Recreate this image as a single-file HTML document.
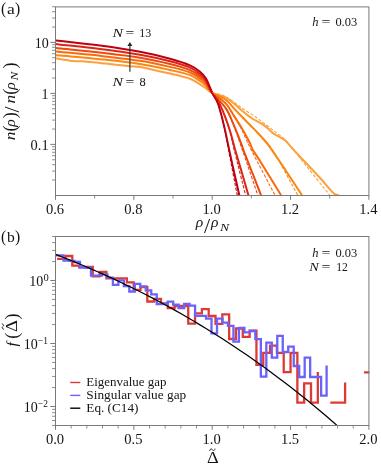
<!DOCTYPE html>
<html><head><meta charset="utf-8"><title>figure</title>
<style>html,body{margin:0;padding:0;background:#fff;}svg{display:block;}text{font-family:"Liberation Serif",serif;}</style></head>
<body>
<svg width="381" height="466" viewBox="0 0 381 466">
<rect width="381" height="466" fill="#fff"/>
<defs><clipPath id="ca"><rect x="55.50" y="6.90" width="313.40" height="188.60"/></clipPath><clipPath id="cb"><rect x="55.50" y="236.50" width="314.60" height="189.00"/></clipPath></defs>
<g clip-path="url(#ca)" fill="none" stroke-linejoin="round">
<path d="M55.60 58.30 C56.50 58.45 59.00 58.88 61.00 59.20 C63.00 59.52 65.80 59.90 67.60 60.20 C69.40 60.50 69.35 60.82 71.80 61.00 C74.25 61.18 79.27 61.13 82.30 61.30 C85.33 61.47 87.05 61.73 90.00 62.00 C92.95 62.27 95.33 62.40 100.00 62.90 C104.67 63.40 112.17 64.38 118.00 65.00 C123.83 65.62 131.33 66.28 135.00 66.60 C138.67 66.92 134.17 65.75 140.00 66.90 C145.83 68.05 161.67 71.53 170.00 73.50 C178.33 75.47 185.00 76.88 190.00 78.70 C195.00 80.52 197.33 82.78 200.00 84.40 C202.67 86.02 203.97 86.98 206.00 88.40 C208.03 89.82 208.92 91.37 212.20 92.90 C215.48 94.43 222.13 95.88 225.70 97.60 C229.27 99.32 230.97 101.08 233.60 103.20 C236.23 105.32 238.87 108.07 241.50 110.30 C244.13 112.53 247.33 115.07 249.40 116.60 C251.47 118.13 251.62 118.17 253.90 119.50 C256.18 120.83 260.75 123.08 263.10 124.60 C265.45 126.12 266.25 127.10 268.00 128.60 C269.75 130.10 271.60 132.17 273.60 133.60 C275.60 135.03 278.03 136.03 280.00 137.20 C281.97 138.37 283.40 138.80 285.40 140.60 C287.40 142.40 289.57 145.30 292.00 148.00 C294.43 150.70 297.07 153.68 300.00 156.80 C302.93 159.92 306.10 163.00 309.60 166.70 C313.10 170.40 317.10 174.67 321.00 179.00 C324.90 183.33 330.00 189.98 333.00 192.70 C336.00 195.42 338.00 194.87 339.00 195.30" stroke="#fda03e" stroke-width="2.0"/>
<path d="M55.60 55.00 C56.50 55.10 53.60 54.90 61.00 55.60 C68.40 56.30 86.83 57.82 100.00 59.20 C113.17 60.58 128.33 62.10 140.00 63.90 C151.67 65.70 161.67 68.13 170.00 70.00 C178.33 71.87 185.00 73.27 190.00 75.10 C195.00 76.93 197.33 79.22 200.00 81.00 C202.67 82.78 203.97 83.82 206.00 85.80 C208.03 87.78 208.92 90.57 212.20 92.90 C215.48 95.23 222.13 97.27 225.70 99.80 C229.27 102.33 230.97 105.37 233.60 108.10 C236.23 110.83 238.77 113.38 241.50 116.20 C244.23 119.02 247.25 122.17 250.00 125.00 C252.75 127.83 255.17 130.13 258.00 133.20 C260.83 136.27 264.00 139.60 267.00 143.40 C270.00 147.20 272.93 151.57 276.00 156.00 C279.07 160.43 281.07 163.47 285.40 170.00 C289.73 176.53 299.23 191.00 302.00 195.20" stroke="#fd8510" stroke-width="2.0"/>
<path d="M55.60 51.40 C56.50 51.50 53.60 51.27 61.00 52.00 C68.40 52.73 86.83 54.33 100.00 55.80 C113.17 57.27 128.33 58.95 140.00 60.80 C151.67 62.65 161.67 64.95 170.00 66.90 C178.33 68.85 185.00 70.57 190.00 72.50 C195.00 74.43 197.33 76.60 200.00 78.50 C202.67 80.40 203.97 81.50 206.00 83.90 C208.03 86.30 208.92 89.65 212.20 92.90 C215.48 96.15 222.13 99.68 225.70 103.40 C229.27 107.12 230.97 111.13 233.60 115.20 C236.23 119.27 238.87 123.33 241.50 127.80 C244.13 132.27 247.52 138.30 249.40 142.00 C251.28 145.70 251.03 146.83 252.80 150.00 C254.57 153.17 255.28 153.47 260.00 161.00 C264.72 168.53 277.58 189.50 281.10 195.20" stroke="#f96a0c" stroke-width="2.0"/>
<path d="M55.60 48.00 C56.50 48.10 53.60 47.83 61.00 48.60 C68.40 49.37 86.83 51.08 100.00 52.60 C113.17 54.12 128.33 55.80 140.00 57.70 C151.67 59.60 161.67 61.93 170.00 64.00 C178.33 66.07 185.00 68.07 190.00 70.10 C195.00 72.13 197.33 74.20 200.00 76.20 C202.67 78.20 203.97 79.32 206.00 82.10 C208.03 84.88 208.92 88.57 212.20 92.90 C215.48 97.23 222.13 102.82 225.70 108.10 C229.27 113.38 230.97 118.57 233.60 124.60 C236.23 130.63 239.87 140.07 241.50 144.30 C243.13 148.53 241.65 145.38 243.40 150.00 C245.15 154.62 249.07 164.47 252.00 172.00 C254.93 179.53 259.50 191.33 261.00 195.20" stroke="#ee4a0e" stroke-width="2.0"/>
<path d="M55.60 44.10 C56.50 44.20 53.60 43.88 61.00 44.70 C68.40 45.52 86.83 47.32 100.00 49.00 C113.17 50.68 128.33 52.75 140.00 54.80 C151.67 56.85 161.67 59.15 170.00 61.30 C178.33 63.45 185.00 65.58 190.00 67.70 C195.00 69.82 197.33 71.88 200.00 74.00 C202.67 76.12 203.97 77.25 206.00 80.40 C208.03 83.55 209.97 89.07 212.20 92.90 C214.43 96.73 217.15 99.17 219.40 103.40 C221.65 107.63 223.85 113.45 225.70 118.30 C227.55 123.15 228.92 127.22 230.50 132.50 C232.08 137.78 233.28 143.25 235.20 150.00 C237.12 156.75 239.80 165.47 242.00 173.00 C244.20 180.53 247.33 191.50 248.40 195.20" stroke="#d92616" stroke-width="2.0"/>
<path d="M55.60 40.50 C56.50 40.58 53.60 40.17 61.00 41.00 C68.40 41.83 86.83 43.70 100.00 45.50 C113.17 47.30 128.33 49.60 140.00 51.80 C151.67 54.00 161.67 56.45 170.00 58.70 C178.33 60.95 185.00 63.13 190.00 65.30 C195.00 67.47 197.33 69.48 200.00 71.70 C202.67 73.92 203.97 75.07 206.00 78.60 C208.03 82.13 210.22 88.77 212.20 92.90 C214.18 97.03 216.17 98.90 217.90 103.40 C219.63 107.90 221.30 114.92 222.60 119.90 C223.90 124.88 224.60 128.28 225.70 133.30 C226.80 138.32 227.73 143.22 229.20 150.00 C230.67 156.78 232.82 166.47 234.50 174.00 C236.18 181.53 238.50 191.67 239.30 195.20" stroke="#bd0012" stroke-width="2.0"/>
<path d="M212.20 92.90 C214.45 93.52 220.82 94.12 225.70 96.60 C230.58 99.08 236.25 104.23 241.50 107.80 C246.75 111.37 253.60 115.53 257.20 118.00 C260.80 120.47 259.93 120.17 263.10 122.60 C266.27 125.03 272.48 129.67 276.20 132.60 C279.92 135.53 281.43 135.97 285.40 140.20 C289.37 144.43 292.62 148.83 300.00 158.00 C307.38 167.17 324.75 189.00 329.70 195.20" stroke="#fda03e" stroke-width="1.1" stroke-dasharray="3.2 1.7"/>
<path d="M212.20 92.90 C214.43 93.98 220.77 95.55 225.60 99.40 C230.43 103.25 236.03 110.62 241.20 116.00 C246.37 121.38 251.38 126.03 256.60 131.70 C261.82 137.37 265.63 139.42 272.50 150.00 C279.37 160.58 293.58 187.67 297.80 195.20" stroke="#fd8510" stroke-width="1.1" stroke-dasharray="3.2 1.7"/>
<path d="M212.20 92.90 C214.43 94.65 222.08 99.68 225.60 103.40 C229.12 107.12 230.77 111.13 233.30 115.20 C235.83 119.27 237.80 122.00 240.80 127.80 C243.80 133.60 245.60 138.77 251.30 150.00 C257.00 161.23 271.05 187.67 275.00 195.20" stroke="#f96a0c" stroke-width="1.1" stroke-dasharray="3.2 1.7"/>
<path d="M212.20 92.90 C214.43 95.43 222.08 102.82 225.60 108.10 C229.12 113.38 230.50 117.62 233.30 124.60 C236.10 131.58 238.32 138.23 242.40 150.00 C246.48 161.77 255.23 187.67 257.80 195.20" stroke="#ee4a0e" stroke-width="1.1" stroke-dasharray="3.2 1.7"/>
<path d="M212.20 92.90 C213.40 94.65 217.17 99.17 219.40 103.40 C221.63 107.63 223.80 113.45 225.60 118.30 C227.40 123.15 228.77 127.22 230.20 132.50 C231.63 137.78 231.63 139.55 234.20 150.00 C236.77 160.45 243.70 187.67 245.60 195.20" stroke="#d92616" stroke-width="1.1" stroke-dasharray="3.2 1.7"/>
<path d="M212.20 92.90 C213.15 94.65 216.18 98.90 217.90 103.40 C219.62 107.90 221.23 114.92 222.50 119.90 C223.77 124.88 224.48 128.28 225.50 133.30 C226.52 138.32 226.65 139.68 228.60 150.00 C230.55 160.32 235.77 187.67 237.20 195.20" stroke="#bd0012" stroke-width="1.1" stroke-dasharray="3.2 1.7"/>
</g>
<g clip-path="url(#cb)" fill="none" stroke-linejoin="miter">
<path d="M57.10 258.80 L65.48 258.80 L65.48 256.00 L72.30 256.00 L72.30 265.70 L79.12 265.70 L79.12 267.00 L85.94 267.00 L85.94 266.90 L92.76 266.90 L92.76 276.30 L99.58 276.30 L99.58 271.80 L106.40 271.80 L106.40 278.30 L113.22 278.30 L113.22 278.30 L120.04 278.30 L120.04 278.30 L126.86 278.30 L126.86 282.40 L133.68 282.40 L133.68 289.80 L140.50 289.80 L140.50 287.00 L147.32 287.00 L147.32 301.50 L154.14 301.50 L154.14 298.80 L160.96 298.80 L160.96 303.50 L167.78 303.50 L167.78 308.00 L174.60 308.00 L174.60 306.00 L181.42 306.00 L181.42 306.00 L188.24 306.00 L188.24 323.70 L195.06 323.70 L195.06 313.30 L201.88 313.30 L201.88 309.20 L208.70 309.20 L208.70 316.00 L215.52 316.00 L215.52 323.90 L222.34 323.90 L222.34 314.40 L229.16 314.40 L229.16 339.00 L235.98 339.00 L235.98 328.50 L242.80 328.50 L242.80 336.80 L249.62 336.80 L249.62 330.60 L256.44 330.60 L256.44 364.90 L263.26 364.90 L263.26 352.90 L270.08 352.90 L270.08 345.70 L276.90 345.70 L276.90 352.80 L283.72 352.80 L283.72 372.10 L290.54 372.10 L290.54 352.80 L297.36 352.80 L297.36 402.70 L304.18 402.70 L304.18 383.30 L311.00 383.30 L311.00 402.70 L317.82 402.70 L317.82 372.00" stroke="#de3a33" stroke-width="2.3"/>
<path d="M330.30 402.70 L345.10 402.70 L345.10 382.50" stroke="#de3a33" stroke-width="2.3"/>
<path d="M364.00 372.40 L369.40 372.40" stroke="#de3a33" stroke-width="2.3"/>
<path d="M55.60 255.30 L58.08 255.30 L58.08 255.30 L63.56 255.30 L63.56 260.50 L69.04 260.50 L69.04 260.90 L74.52 260.90 L74.52 262.00 L80.00 262.00 L80.00 267.50 L85.48 267.50 L85.48 267.80 L90.96 267.80 L90.96 275.70 L96.44 275.70 L96.44 275.70 L101.92 275.70 L101.92 274.40 L107.40 274.40 L107.40 277.70 L112.88 277.70 L112.88 284.90 L118.36 284.90 L118.36 280.30 L123.84 280.30 L123.84 286.20 L129.32 286.20 L129.32 291.50 L134.80 291.50 L134.80 283.80 L140.28 283.80 L140.28 286.40 L145.76 286.40 L145.76 290.30 L151.24 290.30 L151.24 294.30 L156.72 294.30 L156.72 304.00 L162.20 304.00 L162.20 304.00 L167.68 304.00 L167.68 301.70 L173.16 301.70 L173.16 304.70 L178.64 304.70 L178.64 308.00 L184.12 308.00 L184.12 304.00 L189.60 304.00 L189.60 305.70 L195.08 305.70 L195.08 315.80 L200.56 315.80 L200.56 315.80 L206.04 315.80 L206.04 318.70 L211.52 318.70 L211.52 333.30 L217.00 333.30 L217.00 318.60 L222.48 318.60 L222.48 322.60 L227.96 322.60 L227.96 325.80 L233.44 325.80 L233.44 341.60 L238.92 341.60 L238.92 327.90 L244.40 327.90 L244.40 332.30 L249.88 332.30 L249.88 331.00 L255.36 331.00 L255.36 339.20 L260.84 339.20 L260.84 376.60 L266.32 376.60 L266.32 342.60 L271.80 342.60 L271.80 357.70 L277.28 357.70 L277.28 335.80 L282.76 335.80 L282.76 352.00 L288.24 352.00 L288.24 346.70 L293.72 346.70 L293.72 366.00 L299.20 366.00 L299.20 377.00 L304.68 377.00 L304.68 357.70 L310.16 357.70 L310.16 377.00 L315.64 377.00 L315.64 377.00 L321.12 377.00 L321.12 395.70 L326.60 395.70 L326.60 365.60" stroke="#6a62fa" stroke-width="2.3"/>
<path d="M55.60 254.44 C56.60 254.83 59.60 255.98 61.60 256.76 C63.60 257.55 65.60 258.34 67.60 259.13 C69.60 259.93 71.60 260.74 73.60 261.55 C75.60 262.37 77.60 263.19 79.60 264.02 C81.60 264.85 83.60 265.69 85.60 266.53 C87.60 267.38 89.60 268.24 91.60 269.10 C93.60 269.96 95.60 270.83 97.60 271.71 C99.60 272.60 101.60 273.48 103.60 274.38 C105.60 275.28 107.60 276.19 109.60 277.10 C111.60 278.02 113.60 278.94 115.60 279.87 C117.60 280.81 119.60 281.75 121.60 282.70 C123.60 283.65 125.60 284.61 127.60 285.58 C129.60 286.55 131.60 287.52 133.60 288.51 C135.60 289.50 137.60 290.49 139.60 291.50 C141.60 292.51 143.60 293.52 145.60 294.55 C147.60 295.57 149.60 296.60 151.60 297.65 C153.60 298.69 155.60 299.75 157.60 300.81 C159.60 301.87 161.60 302.94 163.60 304.03 C165.60 305.11 167.60 306.20 169.60 307.30 C171.60 308.41 173.60 309.52 175.60 310.64 C177.60 311.76 179.60 312.90 181.60 314.04 C183.60 315.18 185.60 316.34 187.60 317.50 C189.60 318.66 191.60 319.84 193.60 321.02 C195.60 322.20 197.60 323.40 199.60 324.60 C201.60 325.81 203.60 327.02 205.60 328.25 C207.60 329.47 209.60 330.71 211.60 331.96 C213.60 333.21 215.60 334.46 217.60 335.73 C219.60 337.00 221.60 338.28 223.60 339.57 C225.60 340.87 227.60 342.17 229.60 343.48 C231.60 344.79 233.60 346.12 235.60 347.45 C237.60 348.79 239.60 350.14 241.60 351.49 C243.60 352.85 245.60 354.22 247.60 355.60 C249.60 356.98 251.60 358.38 253.60 359.78 C255.60 361.18 257.60 362.60 259.60 364.03 C261.60 365.45 263.60 366.89 265.60 368.34 C267.60 369.80 269.60 371.26 271.60 372.73 C273.60 374.21 275.60 375.69 277.60 377.19 C279.60 378.69 281.60 380.20 283.60 381.72 C285.60 383.25 287.60 384.78 289.60 386.33 C291.60 387.88 293.60 389.44 295.60 391.01 C297.60 392.58 299.60 394.17 301.60 395.76 C303.60 397.36 305.60 398.97 307.60 400.59 C309.60 402.21 311.60 403.85 313.60 405.50 C315.60 407.14 317.60 408.80 319.60 410.48 C321.60 412.15 323.60 413.84 325.60 415.54 C327.60 417.24 329.60 418.95 331.60 420.67 C333.60 422.40 335.60 424.14 337.60 425.89 C339.60 427.64 342.60 430.30 343.60 431.18" stroke="#000" stroke-width="1.25"/>
</g>
<rect x="55.50" y="6.90" width="313.40" height="188.60" fill="none" stroke="#7a7a7a" stroke-width="1"/>
<rect x="55.50" y="236.50" width="313.40" height="189.00" fill="none" stroke="#7a7a7a" stroke-width="1"/>
<line x1="55.50" y1="195.50" x2="55.50" y2="199.80" stroke="#7a7a7a" stroke-width="1.00"/>
<line x1="94.67" y1="195.50" x2="94.67" y2="198.50" stroke="#7a7a7a" stroke-width="0.85"/>
<line x1="133.85" y1="195.50" x2="133.85" y2="199.80" stroke="#7a7a7a" stroke-width="1.00"/>
<line x1="173.03" y1="195.50" x2="173.03" y2="198.50" stroke="#7a7a7a" stroke-width="0.85"/>
<line x1="212.20" y1="195.50" x2="212.20" y2="199.80" stroke="#7a7a7a" stroke-width="1.00"/>
<line x1="251.38" y1="195.50" x2="251.38" y2="198.50" stroke="#7a7a7a" stroke-width="0.85"/>
<line x1="290.55" y1="195.50" x2="290.55" y2="199.80" stroke="#7a7a7a" stroke-width="1.00"/>
<line x1="329.72" y1="195.50" x2="329.72" y2="198.50" stroke="#7a7a7a" stroke-width="0.85"/>
<line x1="368.90" y1="195.50" x2="368.90" y2="199.80" stroke="#7a7a7a" stroke-width="1.00"/>
<line x1="55.50" y1="180.05" x2="52.10" y2="180.05" stroke="#7a7a7a" stroke-width="0.85"/>
<line x1="55.50" y1="171.07" x2="52.10" y2="171.07" stroke="#7a7a7a" stroke-width="0.85"/>
<line x1="55.50" y1="164.69" x2="52.10" y2="164.69" stroke="#7a7a7a" stroke-width="0.85"/>
<line x1="55.50" y1="159.75" x2="52.10" y2="159.75" stroke="#7a7a7a" stroke-width="0.85"/>
<line x1="55.50" y1="155.71" x2="52.10" y2="155.71" stroke="#7a7a7a" stroke-width="0.85"/>
<line x1="55.50" y1="152.30" x2="52.10" y2="152.30" stroke="#7a7a7a" stroke-width="0.85"/>
<line x1="55.50" y1="149.34" x2="52.10" y2="149.34" stroke="#7a7a7a" stroke-width="0.85"/>
<line x1="55.50" y1="146.73" x2="52.10" y2="146.73" stroke="#7a7a7a" stroke-width="0.85"/>
<line x1="55.50" y1="144.40" x2="50.30" y2="144.40" stroke="#7a7a7a" stroke-width="1.00"/>
<line x1="55.50" y1="129.05" x2="52.10" y2="129.05" stroke="#7a7a7a" stroke-width="0.85"/>
<line x1="55.50" y1="120.07" x2="52.10" y2="120.07" stroke="#7a7a7a" stroke-width="0.85"/>
<line x1="55.50" y1="113.69" x2="52.10" y2="113.69" stroke="#7a7a7a" stroke-width="0.85"/>
<line x1="55.50" y1="108.75" x2="52.10" y2="108.75" stroke="#7a7a7a" stroke-width="0.85"/>
<line x1="55.50" y1="104.71" x2="52.10" y2="104.71" stroke="#7a7a7a" stroke-width="0.85"/>
<line x1="55.50" y1="101.30" x2="52.10" y2="101.30" stroke="#7a7a7a" stroke-width="0.85"/>
<line x1="55.50" y1="98.34" x2="52.10" y2="98.34" stroke="#7a7a7a" stroke-width="0.85"/>
<line x1="55.50" y1="95.73" x2="52.10" y2="95.73" stroke="#7a7a7a" stroke-width="0.85"/>
<line x1="55.50" y1="93.40" x2="50.30" y2="93.40" stroke="#7a7a7a" stroke-width="1.00"/>
<line x1="55.50" y1="78.05" x2="52.10" y2="78.05" stroke="#7a7a7a" stroke-width="0.85"/>
<line x1="55.50" y1="69.07" x2="52.10" y2="69.07" stroke="#7a7a7a" stroke-width="0.85"/>
<line x1="55.50" y1="62.69" x2="52.10" y2="62.69" stroke="#7a7a7a" stroke-width="0.85"/>
<line x1="55.50" y1="57.75" x2="52.10" y2="57.75" stroke="#7a7a7a" stroke-width="0.85"/>
<line x1="55.50" y1="53.71" x2="52.10" y2="53.71" stroke="#7a7a7a" stroke-width="0.85"/>
<line x1="55.50" y1="50.30" x2="52.10" y2="50.30" stroke="#7a7a7a" stroke-width="0.85"/>
<line x1="55.50" y1="47.34" x2="52.10" y2="47.34" stroke="#7a7a7a" stroke-width="0.85"/>
<line x1="55.50" y1="44.73" x2="52.10" y2="44.73" stroke="#7a7a7a" stroke-width="0.85"/>
<line x1="55.50" y1="42.40" x2="50.30" y2="42.40" stroke="#7a7a7a" stroke-width="1.00"/>
<line x1="55.50" y1="27.05" x2="52.10" y2="27.05" stroke="#7a7a7a" stroke-width="0.85"/>
<line x1="55.50" y1="18.07" x2="52.10" y2="18.07" stroke="#7a7a7a" stroke-width="0.85"/>
<line x1="55.50" y1="11.69" x2="52.10" y2="11.69" stroke="#7a7a7a" stroke-width="0.85"/>
<line x1="55.50" y1="6.75" x2="52.10" y2="6.75" stroke="#7a7a7a" stroke-width="0.85"/>
<line x1="55.50" y1="425.50" x2="55.50" y2="429.80" stroke="#7a7a7a" stroke-width="1.00"/>
<line x1="71.17" y1="425.50" x2="71.17" y2="428.50" stroke="#7a7a7a" stroke-width="0.85"/>
<line x1="86.84" y1="425.50" x2="86.84" y2="428.50" stroke="#7a7a7a" stroke-width="0.85"/>
<line x1="102.51" y1="425.50" x2="102.51" y2="428.50" stroke="#7a7a7a" stroke-width="0.85"/>
<line x1="118.18" y1="425.50" x2="118.18" y2="428.50" stroke="#7a7a7a" stroke-width="0.85"/>
<line x1="133.85" y1="425.50" x2="133.85" y2="429.80" stroke="#7a7a7a" stroke-width="1.00"/>
<line x1="149.52" y1="425.50" x2="149.52" y2="428.50" stroke="#7a7a7a" stroke-width="0.85"/>
<line x1="165.19" y1="425.50" x2="165.19" y2="428.50" stroke="#7a7a7a" stroke-width="0.85"/>
<line x1="180.86" y1="425.50" x2="180.86" y2="428.50" stroke="#7a7a7a" stroke-width="0.85"/>
<line x1="196.53" y1="425.50" x2="196.53" y2="428.50" stroke="#7a7a7a" stroke-width="0.85"/>
<line x1="212.20" y1="425.50" x2="212.20" y2="429.80" stroke="#7a7a7a" stroke-width="1.00"/>
<line x1="227.87" y1="425.50" x2="227.87" y2="428.50" stroke="#7a7a7a" stroke-width="0.85"/>
<line x1="243.54" y1="425.50" x2="243.54" y2="428.50" stroke="#7a7a7a" stroke-width="0.85"/>
<line x1="259.21" y1="425.50" x2="259.21" y2="428.50" stroke="#7a7a7a" stroke-width="0.85"/>
<line x1="274.88" y1="425.50" x2="274.88" y2="428.50" stroke="#7a7a7a" stroke-width="0.85"/>
<line x1="290.55" y1="425.50" x2="290.55" y2="429.80" stroke="#7a7a7a" stroke-width="1.00"/>
<line x1="306.22" y1="425.50" x2="306.22" y2="428.50" stroke="#7a7a7a" stroke-width="0.85"/>
<line x1="321.89" y1="425.50" x2="321.89" y2="428.50" stroke="#7a7a7a" stroke-width="0.85"/>
<line x1="337.56" y1="425.50" x2="337.56" y2="428.50" stroke="#7a7a7a" stroke-width="0.85"/>
<line x1="353.23" y1="425.50" x2="353.23" y2="428.50" stroke="#7a7a7a" stroke-width="0.85"/>
<line x1="368.90" y1="425.50" x2="368.90" y2="429.80" stroke="#7a7a7a" stroke-width="1.00"/>
<line x1="55.50" y1="425.46" x2="52.10" y2="425.46" stroke="#7a7a7a" stroke-width="0.85"/>
<line x1="55.50" y1="420.48" x2="52.10" y2="420.48" stroke="#7a7a7a" stroke-width="0.85"/>
<line x1="55.50" y1="416.26" x2="52.10" y2="416.26" stroke="#7a7a7a" stroke-width="0.85"/>
<line x1="55.50" y1="412.61" x2="52.10" y2="412.61" stroke="#7a7a7a" stroke-width="0.85"/>
<line x1="55.50" y1="409.38" x2="52.10" y2="409.38" stroke="#7a7a7a" stroke-width="0.85"/>
<line x1="55.50" y1="406.50" x2="50.30" y2="406.50" stroke="#7a7a7a" stroke-width="1.00"/>
<line x1="55.50" y1="387.54" x2="52.10" y2="387.54" stroke="#7a7a7a" stroke-width="0.85"/>
<line x1="55.50" y1="376.44" x2="52.10" y2="376.44" stroke="#7a7a7a" stroke-width="0.85"/>
<line x1="55.50" y1="368.57" x2="52.10" y2="368.57" stroke="#7a7a7a" stroke-width="0.85"/>
<line x1="55.50" y1="362.46" x2="52.10" y2="362.46" stroke="#7a7a7a" stroke-width="0.85"/>
<line x1="55.50" y1="357.48" x2="52.10" y2="357.48" stroke="#7a7a7a" stroke-width="0.85"/>
<line x1="55.50" y1="353.26" x2="52.10" y2="353.26" stroke="#7a7a7a" stroke-width="0.85"/>
<line x1="55.50" y1="349.61" x2="52.10" y2="349.61" stroke="#7a7a7a" stroke-width="0.85"/>
<line x1="55.50" y1="346.38" x2="52.10" y2="346.38" stroke="#7a7a7a" stroke-width="0.85"/>
<line x1="55.50" y1="343.50" x2="50.30" y2="343.50" stroke="#7a7a7a" stroke-width="1.00"/>
<line x1="55.50" y1="324.54" x2="52.10" y2="324.54" stroke="#7a7a7a" stroke-width="0.85"/>
<line x1="55.50" y1="313.44" x2="52.10" y2="313.44" stroke="#7a7a7a" stroke-width="0.85"/>
<line x1="55.50" y1="305.57" x2="52.10" y2="305.57" stroke="#7a7a7a" stroke-width="0.85"/>
<line x1="55.50" y1="299.46" x2="52.10" y2="299.46" stroke="#7a7a7a" stroke-width="0.85"/>
<line x1="55.50" y1="294.48" x2="52.10" y2="294.48" stroke="#7a7a7a" stroke-width="0.85"/>
<line x1="55.50" y1="290.26" x2="52.10" y2="290.26" stroke="#7a7a7a" stroke-width="0.85"/>
<line x1="55.50" y1="286.61" x2="52.10" y2="286.61" stroke="#7a7a7a" stroke-width="0.85"/>
<line x1="55.50" y1="283.38" x2="52.10" y2="283.38" stroke="#7a7a7a" stroke-width="0.85"/>
<line x1="55.50" y1="280.50" x2="50.30" y2="280.50" stroke="#7a7a7a" stroke-width="1.00"/>
<line x1="55.50" y1="261.54" x2="52.10" y2="261.54" stroke="#7a7a7a" stroke-width="0.85"/>
<line x1="55.50" y1="250.44" x2="52.10" y2="250.44" stroke="#7a7a7a" stroke-width="0.85"/>
<line x1="55.50" y1="242.57" x2="52.10" y2="242.57" stroke="#7a7a7a" stroke-width="0.85"/>
<line x1="55.50" y1="236.46" x2="52.10" y2="236.46" stroke="#7a7a7a" stroke-width="0.85"/>
<line x1="129.9" y1="71.7" x2="129.9" y2="45" stroke="#2e2e2e" stroke-width="1.15"/>
<path d="M129.9 41.9 L132.4 45.9 L127.4 45.9 Z" fill="#2a2a2a"/>
<line x1="70.2" y1="382.5" x2="80.3" y2="382.5" stroke="#de3a33" stroke-width="1.4"/>
<line x1="70.2" y1="395.4" x2="80.3" y2="395.4" stroke="#6a62fa" stroke-width="1.4"/>
<line x1="70.2" y1="408.2" x2="80.3" y2="408.2" stroke="#000" stroke-width="1.4"/>
<g font-family="'Liberation Serif', serif" fill="#151515" style="will-change:transform">
<text x="1.10" y="14.00" font-size="17.20" textLength="5.2" lengthAdjust="spacingAndGlyphs">(</text>
<text x="6.90" y="13.70" font-size="15.50" textLength="7.8" lengthAdjust="spacingAndGlyphs">a</text>
<text x="15.00" y="14.00" font-size="17.20" textLength="5.2" lengthAdjust="spacingAndGlyphs">)</text>
<text x="1.10" y="242.00" font-size="17.20" textLength="5.2" lengthAdjust="spacingAndGlyphs">(</text>
<text x="6.90" y="241.70" font-size="15.50" textLength="7.8" lengthAdjust="spacingAndGlyphs">b</text>
<text x="15.00" y="242.00" font-size="17.20" textLength="5.2" lengthAdjust="spacingAndGlyphs">)</text>
<text x="45.90" y="214.10" font-size="14.00" text-anchor="start" textLength="18.2" lengthAdjust="spacingAndGlyphs">0.6</text>
<text x="124.25" y="214.10" font-size="14.00" text-anchor="start" textLength="18.2" lengthAdjust="spacingAndGlyphs">0.8</text>
<text x="202.60" y="214.10" font-size="14.00" text-anchor="start" textLength="18.2" lengthAdjust="spacingAndGlyphs">1.0</text>
<text x="280.95" y="214.10" font-size="14.00" text-anchor="start" textLength="18.2" lengthAdjust="spacingAndGlyphs">1.2</text>
<text x="359.30" y="214.10" font-size="14.00" text-anchor="start" textLength="18.2" lengthAdjust="spacingAndGlyphs">1.4</text>
<text x="45.90" y="444.40" font-size="14.00" text-anchor="start" textLength="18.2" lengthAdjust="spacingAndGlyphs">0.0</text>
<text x="124.25" y="444.40" font-size="14.00" text-anchor="start" textLength="18.2" lengthAdjust="spacingAndGlyphs">0.5</text>
<text x="202.60" y="444.40" font-size="14.00" text-anchor="start" textLength="18.2" lengthAdjust="spacingAndGlyphs">1.0</text>
<text x="280.95" y="444.40" font-size="14.00" text-anchor="start" textLength="18.2" lengthAdjust="spacingAndGlyphs">1.5</text>
<text x="359.30" y="444.40" font-size="14.00" text-anchor="start" textLength="18.2" lengthAdjust="spacingAndGlyphs">2.0</text>
<text x="48.70" y="47.80" font-size="14.00" text-anchor="end" >10</text>
<text x="48.50" y="98.80" font-size="14.00" text-anchor="end" >1</text>
<text x="30.60" y="149.80" font-size="14.00" text-anchor="start" textLength="18" lengthAdjust="spacingAndGlyphs">0.1</text>
<g>
<text x="29.30" y="286.00" font-size="14.00" text-anchor="start" >10</text>
<text x="43.40" y="281.00" font-size="10.50" text-anchor="start" >0</text>
</g>
<g transform="translate(-5.6,0)">
<text x="29.30" y="349.00" font-size="14.00" text-anchor="start" >10</text>
<text x="43.50" y="344.00" font-size="10.50" text-anchor="start" textLength="10" lengthAdjust="spacingAndGlyphs">−1</text>
</g>
<g transform="translate(-5.6,0)">
<text x="29.30" y="412.00" font-size="14.00" text-anchor="start" >10</text>
<text x="43.50" y="407.00" font-size="10.50" text-anchor="start" textLength="10" lengthAdjust="spacingAndGlyphs">−2</text>
</g>
<text x="312.30" y="25.70" font-size="12.50" text-anchor="start" ><tspan font-style="italic">h</tspan></text>
<text x="321.60" y="25.70" font-size="12.50" text-anchor="start" textLength="9.0" lengthAdjust="spacingAndGlyphs">=</text>
<text x="335.40" y="25.70" font-size="12.50" text-anchor="start" textLength="21.8" lengthAdjust="spacingAndGlyphs">0.03</text>
<text x="312.30" y="256.50" font-size="12.50" text-anchor="start" ><tspan font-style="italic">h</tspan></text>
<text x="321.60" y="256.50" font-size="12.50" text-anchor="start" textLength="9.0" lengthAdjust="spacingAndGlyphs">=</text>
<text x="335.40" y="256.50" font-size="12.50" text-anchor="start" textLength="21.8" lengthAdjust="spacingAndGlyphs">0.03</text>
<text x="309.30" y="271.20" font-size="12.50" text-anchor="start" textLength="9.6" lengthAdjust="spacingAndGlyphs"><tspan font-style="italic">N</tspan></text>
<text x="321.60" y="271.20" font-size="12.50" text-anchor="start" textLength="9.0" lengthAdjust="spacingAndGlyphs">=</text>
<text x="336.20" y="271.20" font-size="12.50" text-anchor="start" textLength="11.6" lengthAdjust="spacingAndGlyphs">12</text>
<text x="112.60" y="36.90" font-size="12.50" text-anchor="start" textLength="10.5" lengthAdjust="spacingAndGlyphs"><tspan font-style="italic">N</tspan></text>
<text x="125.60" y="36.90" font-size="12.50" text-anchor="start" textLength="8.8" lengthAdjust="spacingAndGlyphs">=</text>
<text x="139.20" y="36.90" font-size="12.50" text-anchor="start" textLength="12" lengthAdjust="spacingAndGlyphs">13</text>
<text x="112.60" y="86.20" font-size="12.50" text-anchor="start" textLength="10.5" lengthAdjust="spacingAndGlyphs"><tspan font-style="italic">N</tspan></text>
<text x="125.60" y="86.20" font-size="12.50" text-anchor="start" textLength="8.8" lengthAdjust="spacingAndGlyphs">=</text>
<text x="139.40" y="86.20" font-size="12.50" text-anchor="start" >8</text>
<text x="86.30" y="385.80" font-size="12.50" textLength="80.20" lengthAdjust="spacingAndGlyphs" >Eigenvalue gap</text>
<text x="86.30" y="398.70" font-size="12.50" textLength="100.00" lengthAdjust="spacingAndGlyphs" >Singular value gap</text>
<text x="86.30" y="411.60" font-size="12.50" textLength="52.20" lengthAdjust="spacingAndGlyphs" >Eq. (C14)</text>
<text x="195.80" y="227.40" font-size="15.50" font-style="italic" >ρ</text>
<text x="203.90" y="232.60" font-size="22.00" >/</text>
<text x="210.90" y="227.40" font-size="15.50" font-style="italic" >ρ</text>
<text x="219.90" y="230.70" font-size="10.50" font-style="italic" textLength="9.2" lengthAdjust="spacingAndGlyphs">N</text>
<g transform="translate(14.5,140.2) rotate(-90)">
<text x="0.00" y="0.00" font-size="15.50" font-style="italic" textLength="8.6" lengthAdjust="spacingAndGlyphs">n</text>
<text x="8.80" y="1.60" font-size="18.00" >(</text>
<text x="13.40" y="0.00" font-size="15.50" font-style="italic" >ρ</text>
<text x="21.90" y="1.60" font-size="18.00" >)</text>
<text x="27.80" y="4.00" font-size="22.00" >/</text>
<text x="36.70" y="0.00" font-size="15.50" font-style="italic" textLength="8.6" lengthAdjust="spacingAndGlyphs">n</text>
<text x="45.50" y="1.60" font-size="18.00" >(</text>
<text x="50.40" y="0.00" font-size="15.50" font-style="italic" >ρ</text>
<text x="59.80" y="3.30" font-size="10.50" font-style="italic" textLength="8.8" lengthAdjust="spacingAndGlyphs">N</text>
<text x="71.60" y="1.60" font-size="18.00" >)</text>
</g>
<text transform="translate(207,462.7) scale(1.14,1)" font-size="16">Δ</text>
<path transform="translate(209.6,449)" d="M0 1.9 C0.8 -0.5 1.9 -0.3 2.75 0.8 C3.6 1.9 4.7 2.1 5.5 -0.3" fill="none" stroke="#151515" stroke-width="0.95"/>
<g transform="translate(16.7,347.6) rotate(-90)">
<text x="1.20" y="0.00" font-size="15.50" font-style="italic" >f</text>
<text x="8.90" y="1.60" font-size="18.00" >(</text>
<text transform="translate(15.6,0) scale(1.12,1)" font-size="16.5">Δ</text>
<text x="28.00" y="1.60" font-size="18.00" >)</text>
<path transform="translate(18.3,-14.6)" d="M0 1.9 C0.8 -0.5 1.9 -0.3 2.75 0.8 C3.6 1.9 4.7 2.1 5.5 -0.3" fill="none" stroke="#151515" stroke-width="0.95"/>
</g>
</g>
</svg>
</body></html>
